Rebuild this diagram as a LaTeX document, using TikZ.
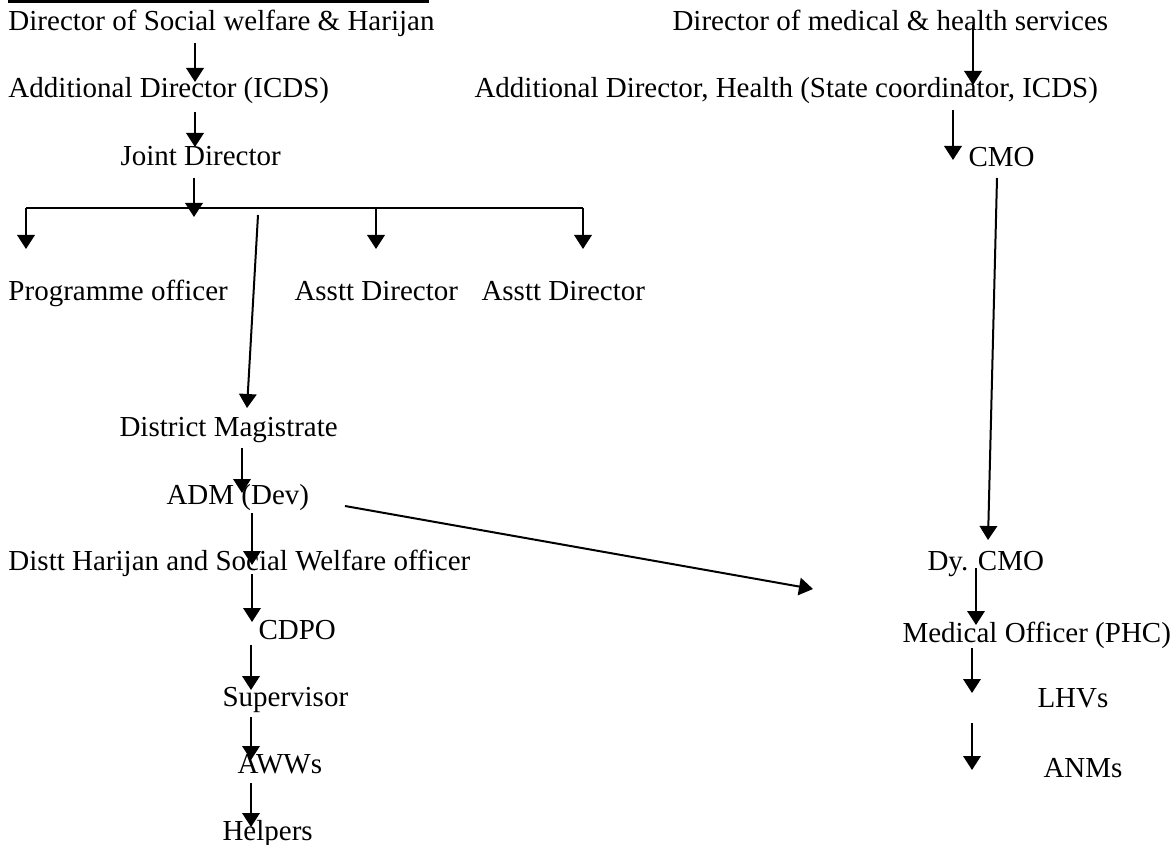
\documentclass[tikz,border=0pt]{standalone}
\usepackage{fontspec}
\setmainfont{Liberation Serif}
\usetikzlibrary{arrows.meta,calc}

\begin{document}
\begin{tikzpicture}[x=0.4pt,y=-0.4pt,
    lbl/.style={anchor=base west,inner sep=0pt,font=\fontsize{11.6pt}{14pt}\selectfont},
    arr/.style={-{Triangle[width=7pt,length=5.6pt]},line width=0.8pt}]
      \useasboundingbox (0,0) rectangle (1173,845);
      \draw [line width=1.2pt] (8,1.5) -- (429,1.5);
      % welfare side
      \node[lbl] (dsw) at (8,31) {Director of Social welfare \& Harijan};
      \node[lbl] (adl) at (8,98) {Additional Director (ICDS)};
      \node[lbl] (jd) at (120,166) {Joint Director};
      \node[lbl] (po) at (8,301) {Programme officer};
      \node[lbl] (ad1) at (294,301) {Asstt Director};
      \node[lbl] (ad2) at (481,301) {Asstt Director};
      \node[lbl] (dm) at (119,436) {District Magistrate};
      \node[lbl] (adm) at (166,504) {ADM (Dev)};
      \node[lbl] (dhs) at (8,570) {Distt Harijan and Social Welfare officer};
      \node[lbl] (cdpo) at (258,639) {CDPO};
      \node[lbl] (sup) at (222,706) {Supervisor};
      \node[lbl] (aww) at (237,773) {AWWs};
      \node[lbl] (hlp) at (222,840) {Helpers};
      % health side
      \node[lbl] (dmh) at (672,31) {Director of medical \& health services};
      \node[lbl] (adh) at (474,98) {Additional Director, Health (State coordinator, ICDS)};
      \node[lbl] (cmo) at (968,167) {CMO};
      \node[lbl] (dycmo) at (927,570) {Dy. CMO};
      \node[lbl] (mo) at (902,642) {Medical Officer (PHC)};
      \node[lbl] (lhv) at (1037,707) {LHVs};
      \node[lbl] (anm) at (1043,777) {ANMs};

      \draw [arr] ($(dsw.base west)+(187,12)$) -- ($(adl.base west)+(187,-16)$);
      \draw [arr] ($(adl.base west)+(187,14)$) -- ($(jd.base west)+(75,-19)$);
      \draw [arr] ($(jd.base west)+(74,12)$) -- ($(jd.base west)+(74,51)$);
      \draw [line width=0.8pt] ($(po.base west)+(18,-93)$) -- ($(ad2.base west)+(102,-93)$);
      \foreach \n/\dx in {po/18, ad1/82, ad2/102}
        \draw [arr] ($(\n.base west)+(\dx,-93)$) -- ($(\n.base west)+(\dx,-52)$);
      \draw [arr] ($(jd.base west)+(138,49)$) -- ($(dm.base west)+(128,-28)$);
      \draw [arr] ($(dm.base west)+(123,12)$) -- ($(adm.base west)+(76,-11)$);
      \draw [arr] ($(adm.base west)+(86,9)$) -- ($(dhs.base west)+(244,-5)$);
      \draw [arr] ($(dhs.base west)+(244,4)$) -- ($(cdpo.base west)+(-6,-17)$);
      \draw [arr] ($(cdpo.base west)+(-7,6)$) -- ($(sup.base west)+(29,-16)$);
      \draw [arr] ($(sup.base west)+(29,11)$) -- ($(aww.base west)+(14,-13)$);
      \draw [arr] ($(aww.base west)+(14,10)$) -- ($(hlp.base west)+(29,-13)$);
      \draw [arr] ($(adm.base west)+(179,2)$) -- ($(dycmo.base west)+(-114,19)$);

      \draw [arr] ($(dmh.base west)+(301,-6)$) -- ($(adh.base west)+(499,-13)$);
      \draw [arr] ($(adh.base west)+(479,12)$) -- ($(cmo.base west)+(-15,-7)$);
      \draw [arr] ($(cmo.base west)+(29,11)$) -- ($(dycmo.base west)+(61,-30)$);
      \draw [arr] ($(dycmo.base west)+(49,-2)$) -- ($(mo.base west)+(74,-17)$);
      \draw [arr] ($(mo.base west)+(70,6)$) -- ($(lhv.base west)+(-65,-14)$);
      \draw [arr] ($(lhv.base west)+(-65,16)$) -- ($(anm.base west)+(-71,-7)$);
\end{tikzpicture}
\end{document}
